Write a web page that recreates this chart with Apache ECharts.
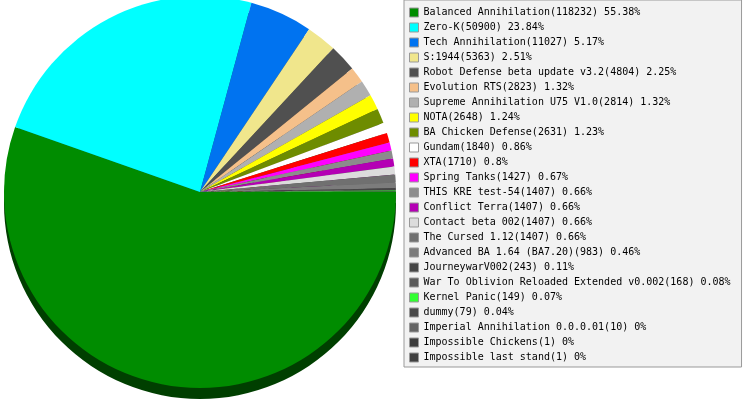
<!DOCTYPE html>
<html>
<head>
<meta charset="utf-8">
<script src="https://cdn.jsdelivr.net/npm/echarts@6/dist/echarts.min.js"></script>
<style>
html,body{margin:0;padding:0;background:#fff;}
#chart{width:743px;height:400px;}
</style>
</head>
<body>
<div id="chart"></div>
<script>
var names = [
  "Balanced Annihilation","Zero-K","Tech Annihilation","S:1944",
  "Robot Defense beta update v3.2","Evolution RTS","Supreme Annihilation U75 V1.0",
  "NOTA","BA Chicken Defense","Gundam","XTA","Spring Tanks","THIS KRE test-54",
  "Conflict Terra","Contact beta 002","The Cursed 1.12","Advanced BA 1.64 (BA7.20)",
  "JourneywarV002","War To Oblivion Reloaded Extended v0.002","Kernel Panic","dummy",
  "Imperial Annihilation 0.0.0.01","Impossible Chickens","Impossible last stand"
];
var values = [118232,50900,11027,5363,4804,2823,2814,2648,2631,1840,1710,1427,1407,
  1407,1407,1407,983,243,168,149,79,10,1,1];
var pctLabels = ["55.38%","23.84%","5.17%","2.51%","2.25%","1.32%","1.32%","1.24%",
  "1.23%","0.86%","0.8%","0.67%","0.66%","0.66%","0.66%","0.66%","0.46%","0.11%",
  "0.08%","0.07%","0.04%","0%","0%","0%"];
var colors = ["#008c00","#00ffff","#0073f0","#f0e68c","#505050","#f5c08a","#b0b0b0",
  "#ffff00","#6e8c00","#ffffff","#ff0000","#ff00ff","#8c8c8c","#b400b4","#dcdcdc",
  "#707070","#7c7c7c","#464646","#5a5a5a","#32ff32","#4a4a4a","#646464","#3c3c3c","#404040"];

function darken(hex, f){
  var n = parseInt(hex.slice(1),16);
  var r = Math.round(((n>>16)&255)*f), g = Math.round(((n>>8)&255)*f), b = Math.round((n&255)*f);
  return 'rgb('+r+','+g+','+b+')';
}

var mainData = names.map(function(n,i){return {name:n, value:values[i], itemStyle:{color:colors[i]}};});
var shadowData = names.map(function(n,i){return {name:n, value:values[i], itemStyle:{color:darken(colors[i],0.45)}};});
var labelMap = {};
names.forEach(function(n,i){ labelMap[n] = n + '(' + values[i] + ') ' + pctLabels[i]; });

var chart = echarts.init(document.getElementById('chart'));
chart.setOption({
  animation:false,
  legend:{
    orient:'vertical', left:404, top:0, padding:[5,11,2,5],
    itemWidth:9, itemHeight:9, itemGap:0, icon:'rect',
    backgroundColor:'#f2f2f2', borderColor:'#999', borderWidth:1,
    itemStyle:{borderColor:'#999', borderWidth:1},
    data:names,
    formatter:function(n){return labelMap[n];},
    textStyle:{fontFamily:'DejaVu Sans Mono', fontSize:10, color:'#000', lineHeight:15}
  },
  series:[
    {
      type:'pie', name:'main', z:2, center:[200,192], radius:196,
      startAngle:0, clockwise:true, label:{show:false}, labelLine:{show:false},
      emphasis:{disabled:true}, avoidLabelOverlap:false,
      itemStyle:{borderWidth:0},
      data:mainData
    },
    {
      type:'pie', name:'shadow', z:1, silent:true, center:[200,203], radius:196,
      startAngle:0, clockwise:true, label:{show:false}, labelLine:{show:false},
      emphasis:{disabled:true}, itemStyle:{borderWidth:0},
      data:shadowData
    }
  ]
});
</script>
</body>
</html>
